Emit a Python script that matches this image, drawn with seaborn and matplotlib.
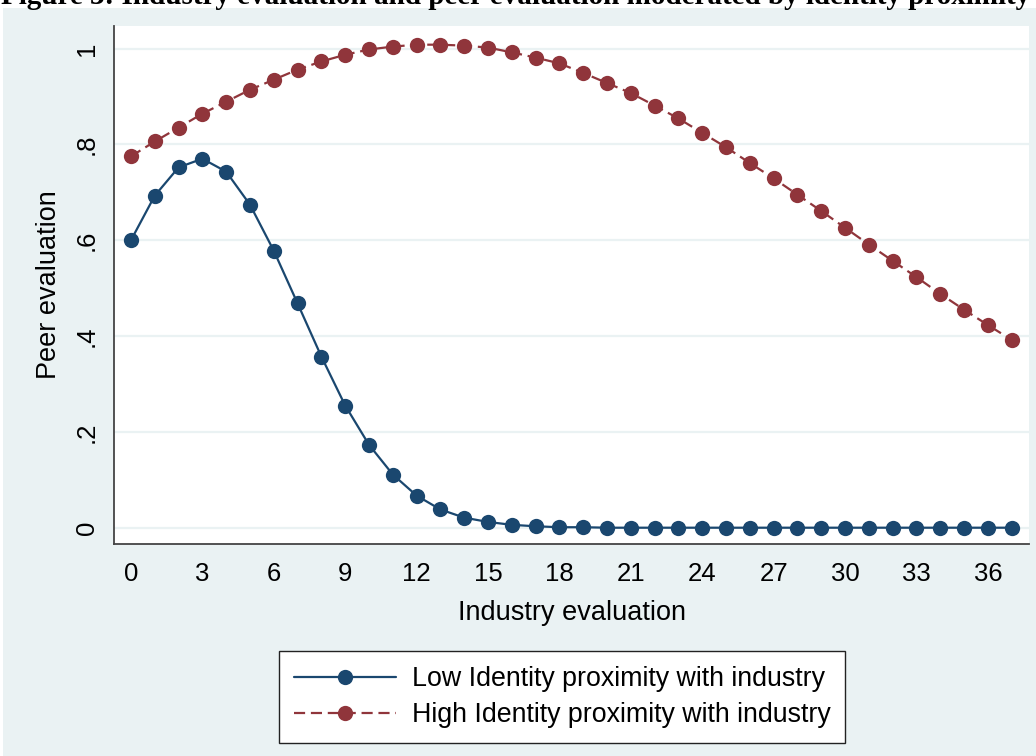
import numpy as np
import pandas as pd
import matplotlib
matplotlib.use("Agg")
import matplotlib.pyplot as plt
import seaborn as sns
from matplotlib.patches import Rectangle

# Values
industry_eval = list(range(38))
low_proximity = [0.600, 0.693, 0.752, 0.770, 0.743, 0.674, 0.578, 0.468, 0.357, 0.255,
                 0.173, 0.111, 0.067, 0.038, 0.021, 0.012, 0.006, 0.003, 0.001, 0.001,
                 0.0, 0.0, 0.0, 0.0, 0.0, 0.0, 0.0, 0.0, 0.0, 0.0,
                 0.0, 0.0, 0.0, 0.0, 0.0, 0.0, 0.0, 0.0]
high_proximity = [0.775, 0.806, 0.835, 0.864, 0.889, 0.914, 0.935, 0.956, 0.973, 0.987,
                  0.998, 1.004, 1.008, 1.008, 1.006, 1.002, 0.992, 0.981, 0.969, 0.949,
                  0.928, 0.907, 0.881, 0.854, 0.824, 0.794, 0.761, 0.729, 0.695, 0.661,
                  0.626, 0.591, 0.557, 0.523, 0.488, 0.455, 0.423, 0.392]
series_names = ["Low Identity proximity with industry", "High Identity proximity with industry"]
x_ticks = list(range(0, 37, 3))
y_ticks = [0, 0.2, 0.4, 0.6, 0.8, 1.0]
y_tick_labels = ["0", ".2", ".4", ".6", ".8", "1"]

df = pd.DataFrame({
    "Industry evaluation": industry_eval * 2,
    "Peer evaluation": low_proximity + high_proximity,
    "group": [series_names[0]] * len(industry_eval) + [series_names[1]] * len(industry_eval),
})

sns.set_theme(style="white")
plt.rcParams["font.family"] = ["Liberation Sans", "DejaVu Sans"]
plt.rcParams["text.color"] = "black"
plt.rcParams["axes.labelcolor"] = "black"

bg = "#EAF2F3"
navy = "#1A476F"
maroon = "#90353B"

fig = plt.figure(figsize=(10.36, 7.56), dpi=100, facecolor="white")
# graph region background (white page strip on top/left)
fig.patches.append(Rectangle((3 / 1036, 0), 1, 1 - 8 / 756, transform=fig.transFigure,
                             facecolor=bg, edgecolor="none", zorder=-10))
ax = fig.add_axes([114 / 1036, 1 - 544 / 756, (1029 - 114) / 1036, (544 - 26) / 756])
ax.set_zorder(2)
ax.set_facecolor("white")

sns.lineplot(data=df, x="Industry evaluation", y="Peer evaluation", hue="group", style="group",
             palette={series_names[0]: navy, series_names[1]: maroon},
             dashes={series_names[0]: "", series_names[1]: (5, 2.6)},
             markers={series_names[0]: "o", series_names[1]: "o"},
             markersize=11, markeredgewidth=0, linewidth=1.6, ax=ax, legend=True)

ax.set_xlim(-0.714, 37.73)
ax.set_ylim(-0.034, 1.047)
ax.set_xticks(x_ticks)
ax.set_yticks(y_ticks)
ax.set_yticklabels(y_tick_labels, rotation=90, va="center")
ax.tick_params(axis="both", direction="out", length=6, width=1.2, color="#444444",
               labelsize=18.5, labelcolor="black")
ax.tick_params(axis="x", pad=7)
ax.tick_params(axis="y", pad=5)
ax.grid(axis="y", color=bg, linewidth=1.6)
ax.grid(axis="x", visible=False)
ax.set_axisbelow(True)
for s in ["top", "right"]:
    ax.spines[s].set_visible(False)
for s in ["left", "bottom"]:
    ax.spines[s].set_color("#444444")
    ax.spines[s].set_linewidth(1.3)
ax.set_xlabel("Industry evaluation", fontsize=19.5, labelpad=10)
ax.set_ylabel("Peer evaluation", fontsize=19.5, labelpad=9)

handles, labels = ax.get_legend_handles_labels()
ax.legend_.remove()
leg = fig.legend(handles, labels, loc="center", bbox_to_anchor=(562 / 1036, 1 - 697 / 756),
                 frameon=True, fancybox=False, edgecolor="#222222", facecolor="white",
                 framealpha=1, fontsize=19.3, handlelength=3.8, handletextpad=0.6,
                 borderpad=0.55, labelspacing=0.38, borderaxespad=0)
leg.get_frame().set_linewidth(1.0)
for t in leg.get_texts():
    t.set_color("black")

fig.text(0.0005, 1 - 4 / 756,
         "Figure 3: Industry evaluation and peer evaluation moderated by identity proximity",
         fontsize=21, fontweight="bold", family=["Liberation Serif", "DejaVu Serif"],
         ha="left", va="baseline", color="black")

fig.savefig("out.png", dpi=100, facecolor="white")
